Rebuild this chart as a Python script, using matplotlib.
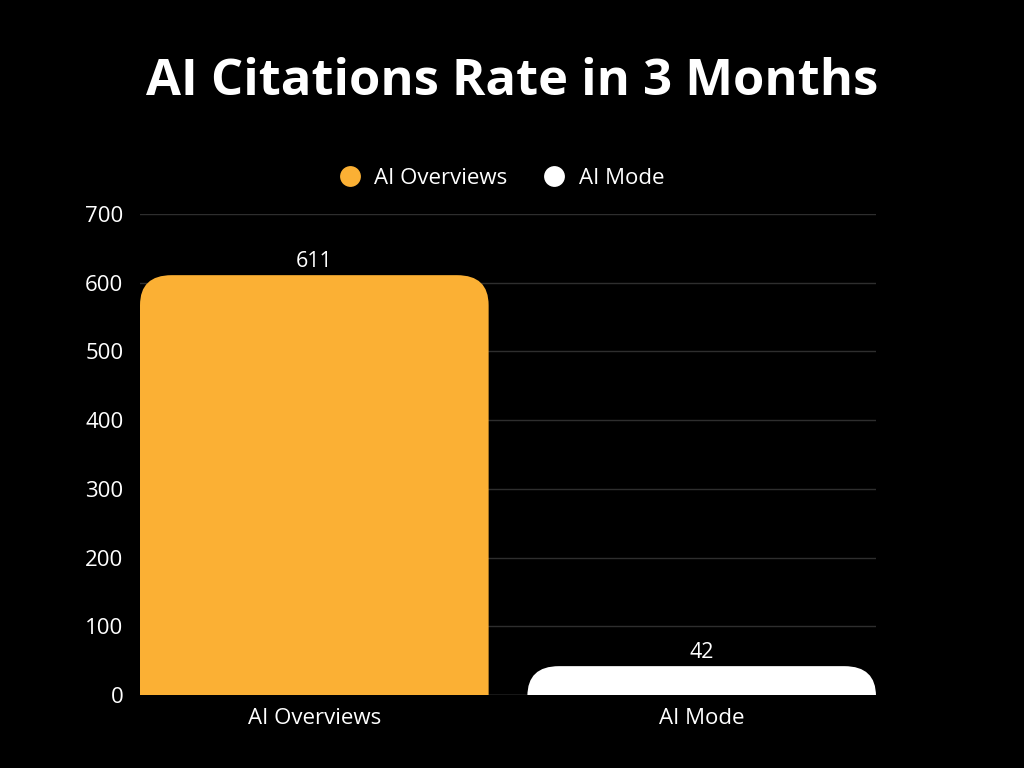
import numpy as np
import matplotlib.pyplot as plt
from matplotlib.patches import FancyBboxPatch
from matplotlib.lines import Line2D

plt.rcParams['font.family'] = ['Open Sans', 'DejaVu Sans']

# 数据
categories = ['AI Overviews', 'AI Mode']
values = [611, 42]
colors = ['#FBB034', '#FFFFFF']
yticks = [0, 100, 200, 300, 400, 500, 600, 700]

fig = plt.figure(figsize=(10.24, 7.68), dpi=100, facecolor='black')
ax = fig.add_axes([140 / 1024, 73 / 768, 736 / 1024, 481 / 768], facecolor='black')

x = np.arange(len(categories))
width = 0.9
ax.set_xlim(-0.45, 1.45)
ax.set_ylim(0, 700)

# 圆角半径（像素换算成数据单位）
r_px = 30
rx = r_px / 368
ry = r_px * 700 / 481
for xi, v, c in zip(x, values, colors):
    box = FancyBboxPatch((xi - width / 2, -ry), width, v + ry,
                         boxstyle=f'round,pad=0,rounding_size={rx}',
                         mutation_aspect=ry / rx,
                         facecolor=c, edgecolor='none', zorder=3)
    ax.add_patch(box)
    ax.text(xi, v + 4, str(v), ha='center', va='bottom', color='white', fontsize=15.5, zorder=4)

# 网格线
ax.set_yticks(yticks)
ax.yaxis.grid(True, color='#2e2e2e', linewidth=1)
ax.set_axisbelow(True)
ax.axhline(0, color='#555555', linewidth=1, zorder=2)
for s in ax.spines.values():
    s.set_visible(False)
ax.tick_params(length=0, colors='white', labelsize=16)
ax.tick_params(axis='y', pad=12)
ax.tick_params(axis='x', pad=9)
ax.set_xticks(x)
ax.set_xticklabels(categories)

# 标题
fig.text(0.5, 1 - 82 / 768, 'AI Citations Rate in 3 Months', ha='center', va='center',
         color='white', fontsize=36.5, fontweight='bold')

# 图例
handles = [Line2D([0], [0], marker='o', linestyle='none', markersize=15,
                  markerfacecolor=c, markeredgecolor='none') for c in colors]
fig.legend(handles, categories, loc='center', bbox_to_anchor=(0.5 - 16 / 1024, 1 - 178 / 768),
           ncol=2, frameon=False, fontsize=16, labelcolor='white',
           handletextpad=0.1, columnspacing=1.1)

fig.savefig('out.png', dpi=100, facecolor='black')
